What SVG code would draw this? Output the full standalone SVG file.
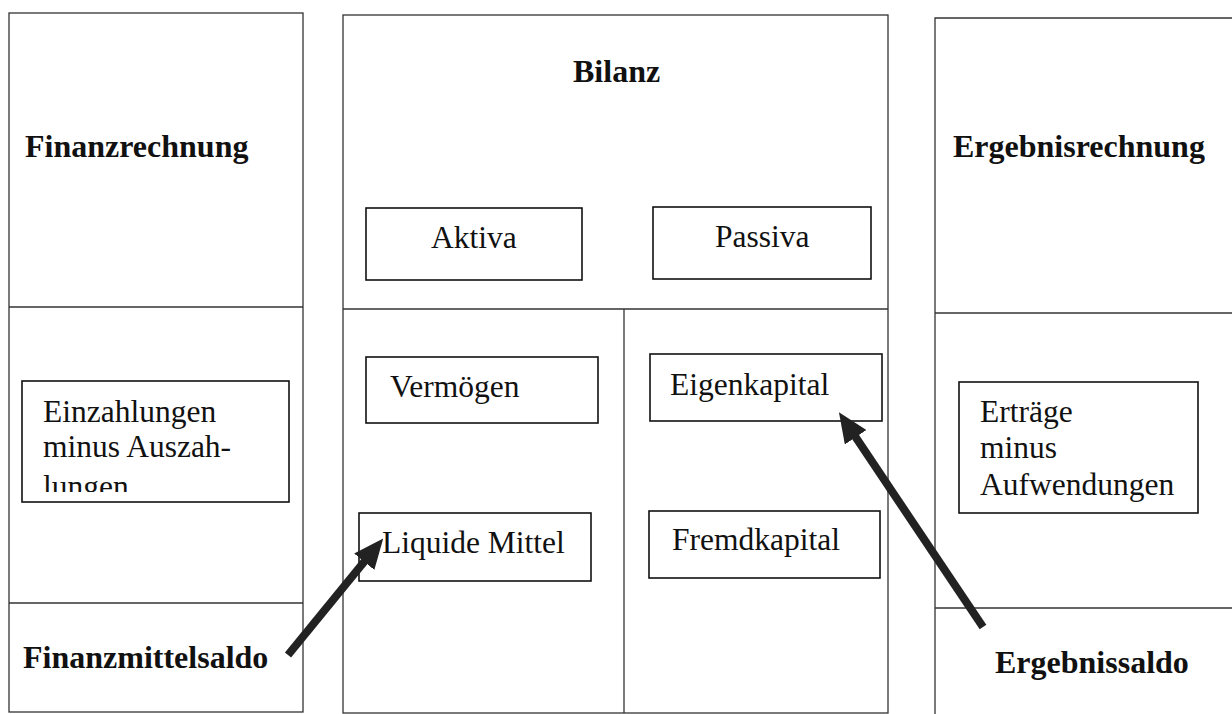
<svg xmlns="http://www.w3.org/2000/svg" width="1232" height="714" viewBox="0 0 1232 714">
<style>
.col{fill:none;stroke:#333;stroke-width:1.3}
.box{fill:#fff;stroke:#111;stroke-width:1.6}
.t{font-family:"Liberation Serif","Times New Roman",serif;font-size:31.5px;fill:#111}
.b{font-family:"Liberation Serif","Times New Roman",serif;font-size:32px;font-weight:bold;fill:#111}
.arr{stroke:#222;stroke-width:8;fill:none}
</style>
<defs>
<marker id="ah" viewBox="0 0 30 26" refX="8" refY="13" markerWidth="30" markerHeight="26" markerUnits="userSpaceOnUse" orient="auto">
<path d="M0,0 L30,13 L0,26 Z" fill="#222"/>
</marker>
<clipPath id="clipEin"><rect x="22" y="381" width="267" height="111"/></clipPath>
</defs>
<rect width="1232" height="714" fill="#fff"/>

<g id="finanzrechnung">
<rect class="col" x="9" y="13" width="294" height="699"/>
<line class="col" x1="9" y1="307" x2="303" y2="307"/>
<line class="col" x1="9" y1="603" x2="303" y2="603"/>
<text class="b" x="25" y="157">Finanzrechnung</text>
<text class="b" x="23" y="668">Finanzmittelsaldo</text>
</g>

<g id="einzahlungen">
<rect class="box" x="22" y="381" width="267" height="121"/>
<g clip-path="url(#clipEin)">
<text class="t" x="43" y="422">Einzahlungen</text>
<text class="t" x="43" y="457">minus Auszah-</text>
<text class="t" x="43" y="497">lungen</text>
</g>
</g>

<g id="bilanz">
<rect class="col" x="343" y="15" width="545" height="698"/>
<line class="col" x1="343" y1="309" x2="888" y2="309"/>
<line class="col" x1="624" y1="309" x2="624" y2="713"/>
<text class="b" x="573" y="82">Bilanz</text>
</g>

<g id="aktiva">
<rect class="box" x="366" y="208" width="216" height="72"/>
<text class="t" x="431" y="248">Aktiva</text>
</g>
<g id="passiva">
<rect class="box" x="653" y="207" width="218" height="72"/>
<text class="t" x="715" y="247">Passiva</text>
</g>
<g id="vermoegen">
<rect class="box" x="366" y="357" width="232" height="66"/>
<text class="t" x="390" y="397">Vermögen</text>
</g>
<g id="eigenkapital">
<rect class="box" x="650" y="354" width="232" height="67"/>
<text class="t" x="670" y="395">Eigenkapital</text>
</g>
<g id="liquide">
<rect class="box" x="359" y="513" width="232" height="68"/>
<text class="t" x="382" y="553">Liquide Mittel</text>
</g>
<g id="fremdkapital">
<rect class="box" x="649" y="511" width="231" height="67"/>
<text class="t" x="672" y="550">Fremdkapital</text>
</g>

<g id="ergebnisrechnung">
<path class="col" d="M1232,18 H935 V714"/>
<line class="col" x1="935" y1="313" x2="1232" y2="313"/>
<line class="col" x1="935" y1="608" x2="1232" y2="608"/>
<text class="b" x="953" y="157">Ergebnisrechnung</text>
<text class="b" x="995" y="673">Ergebnissaldo</text>
</g>

<g id="ertraege">
<rect class="box" x="959" y="382" width="239" height="131"/>
<text class="t" x="980" y="422">Erträge</text>
<text class="t" x="980" y="458">minus</text>
<text class="t" x="980" y="495">Aufwendungen</text>
</g>

<g id="connectors">
<line class="arr" x1="288" y1="655" x2="369.3" y2="555.5" marker-end="url(#ah)"/>
<line class="arr" x1="983" y1="627" x2="851.2" y2="430.6" marker-end="url(#ah)"/>
</g>
</svg>
